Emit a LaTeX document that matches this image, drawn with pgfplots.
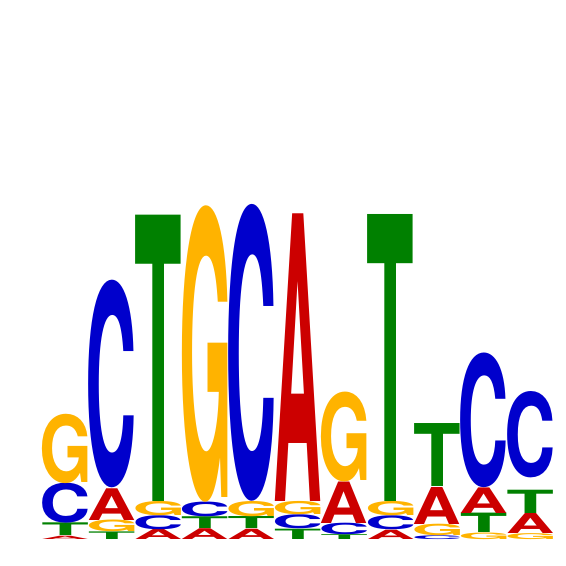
\documentclass[border=0pt]{standalone}
\usepackage{pgfplots}
\pgfplotsset{compat=1.18}
\usepackage{pgfplotstable}
\usepackage{graphicx}
\usepackage{fontspec}
\setmainfont{TeX Gyre Heros}
\definecolor{lA}{RGB}{204,0,0}
\definecolor{lC}{RGB}{0,0,204}
\definecolor{lG}{RGB}{255,179,0}
\definecolor{lT}{RGB}{0,128,0}
\newdimen\lbL \newdimen\lbR \newdimen\lbT \newdimen\lbB
\newdimen\logounit \logounit=265pt
\newdimen\colw \colw=45.5pt
\newcommand\inkglyph[1]{%
  \bfseries
  \lbL=\XeTeXglyphbounds1 \XeTeXcharglyph`#1\relax
  \lbT=\XeTeXglyphbounds2 \XeTeXcharglyph`#1\relax
  \lbR=\XeTeXglyphbounds3 \XeTeXcharglyph`#1\relax
  \lbB=\XeTeXglyphbounds4 \XeTeXcharglyph`#1\relax
  \setbox0=\hbox{\kern-\lbL\textcolor{l#1}{#1}\kern-\lbR}%
  \ht0=\lbT \dp0=\lbB
  \box0}
\newcommand\logoletter[2]{\resizebox*{\colw}{#2\logounit}{\inkglyph{#1}}}

% x = position, y0 = bottom of the letter (bits), h = letter height (bits), L = letter
\pgfplotstableread{
x y0 h L
1 0 0.0125 A
1 0.0125 0.0479 T
1 0.0604 0.1509 C
1 0.2113 0.2615 G
2 0 0.0287 T
2 0.0287 0.0441 G
2 0.0728 0.1197 A
2 0.1925 0.7822 C
3 0 0.0377 A
3 0.0377 0.0529 C
3 0.0906 0.0539 G
3 0.1445 1.0793 T
4 0 0.0408 A
4 0.0408 0.0445 T
4 0.0853 0.0555 C
4 0.1408 1.1143 G
5 0 0.0389 A
5 0.0389 0.0453 T
5 0.0842 0.0577 G
5 0.1419 1.1158 C
6 0 0.0389 T
6 0.0389 0.0528 C
6 0.0917 0.0502 G
6 0.1419 1.0845 A
7 0 0.0181 T
7 0.0181 0.0434 C
7 0.0615 0.1566 A
7 0.2181 0.3389 G
8 0 0.0351 A
8 0.0351 0.0528 C
8 0.0879 0.0540 G
8 0.1419 1.0819 T
9 0 0.0143 C
9 0.0143 0.0434 G
9 0.0577 0.1397 A
9 0.1974 0.2377 T
10 0 0.0249 G
10 0.0249 0.0732 T
10 0.0981 0.0966 A
10 0.1947 0.5072 C
11 0 0.0226 G
11 0.0226 0.0755 A
11 0.0981 0.0879 T
11 0.2313 0.3257 C
}\logodata

\begin{document}
\begin{tikzpicture}
\useasboundingbox (-18.75pt,-26.7pt) rectangle ++(566pt,566pt);
\begin{axis}[at={(0,0)}, anchor=origin, scale only axis,
  width=566pt, height=566pt, hide axis, clip=false,
  xmin=-0.4032, xmax=11.7688, ymin=-0.10075, ymax=2.0351,
  x=46.5pt, y=265pt]
\addplot[scatter, only marks, mark=*, mark size=0pt,
  mark options={draw=none,fill=none},
  point meta=explicit symbolic,
  visualization depends on={\thisrow{h}\as\hh},
  scatter/@pre marker code/.code={%
    \edef\LL{\pgfplotspointmeta}%
    \node[anchor=south, inner sep=0pt, outer sep=0pt] at (0pt,0pt)
      {\expandafter\logoletter\expandafter{\LL}{\hh}};},
  scatter/@post marker code/.code={}]
  table[x=x, y=y0, meta=L] {\logodata};
\end{axis}
\end{tikzpicture}
\end{document}
